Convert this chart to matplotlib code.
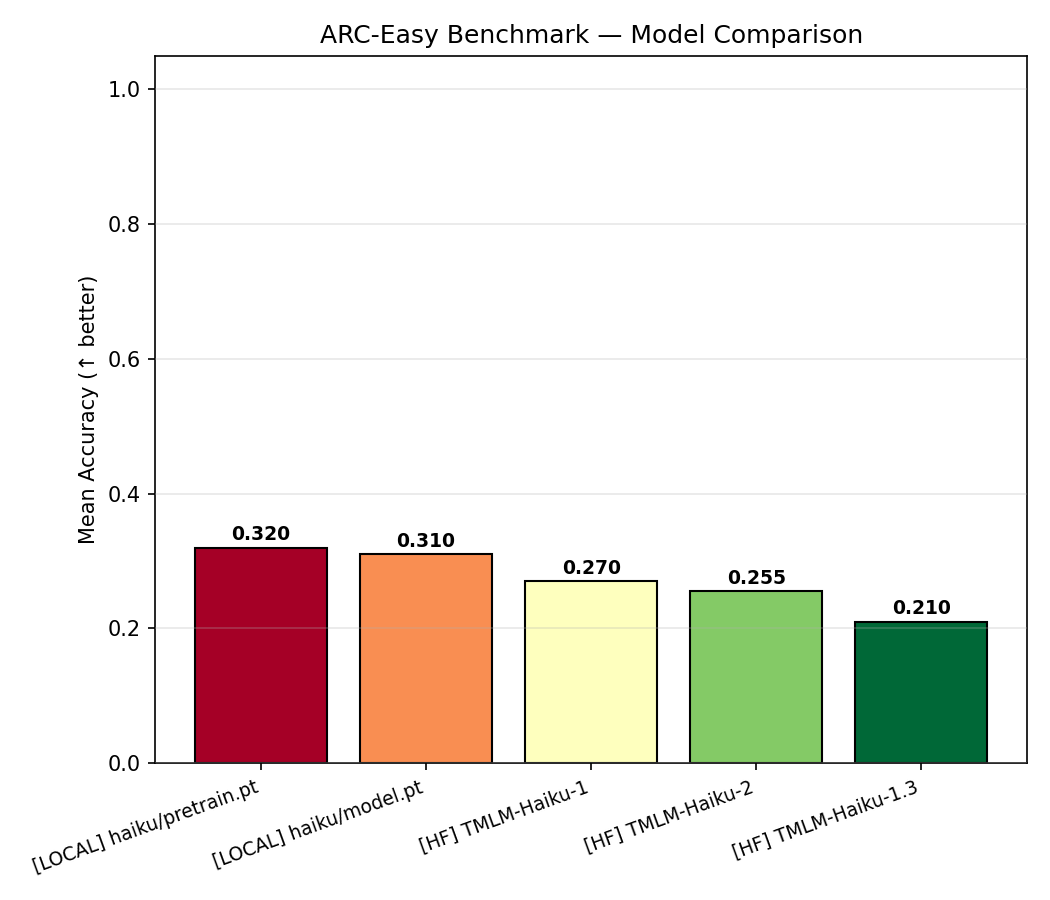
import numpy as np
import matplotlib
matplotlib.use("Agg")
import matplotlib.pyplot as plt

models = ["[LOCAL] haiku/pretrain.pt", "[LOCAL] haiku/model.pt",
          "[HF] TMLM-Haiku-1", "[HF] TMLM-Haiku-2", "[HF] TMLM-Haiku-1.3"]
accuracy = [0.320, 0.310, 0.270, 0.255, 0.210]

fig, ax = plt.subplots(figsize=(7, 6), dpi=150)
colors = plt.cm.RdYlGn(np.linspace(0, 1, len(models)))
x = np.arange(len(models))
bars = ax.bar(x, accuracy, color=colors, edgecolor="black", linewidth=1.0, width=0.8)
for b, v in zip(bars, accuracy):
    ax.text(b.get_x() + b.get_width() / 2, v + 0.005, f"{v:.3f}",
            ha="center", va="bottom", fontsize=9, fontweight="bold")
ax.set_xticks(x)
ax.set_xticklabels(models, rotation=20, ha="right", fontsize=9)
ax.set_ylim(0, 1.05)
ax.set_ylabel("Mean Accuracy (↑ better)", fontsize=10)
ax.set_title("ARC-Easy Benchmark — Model Comparison", fontsize=12)
ax.tick_params(axis="y", labelsize=10)
ax.grid(axis="y", alpha=0.3)
ax.set_axisbelow(False)
fig.subplots_adjust(left=0.148, right=0.978, top=0.938, bottom=0.152)
fig.savefig("out.png", dpi=150)
